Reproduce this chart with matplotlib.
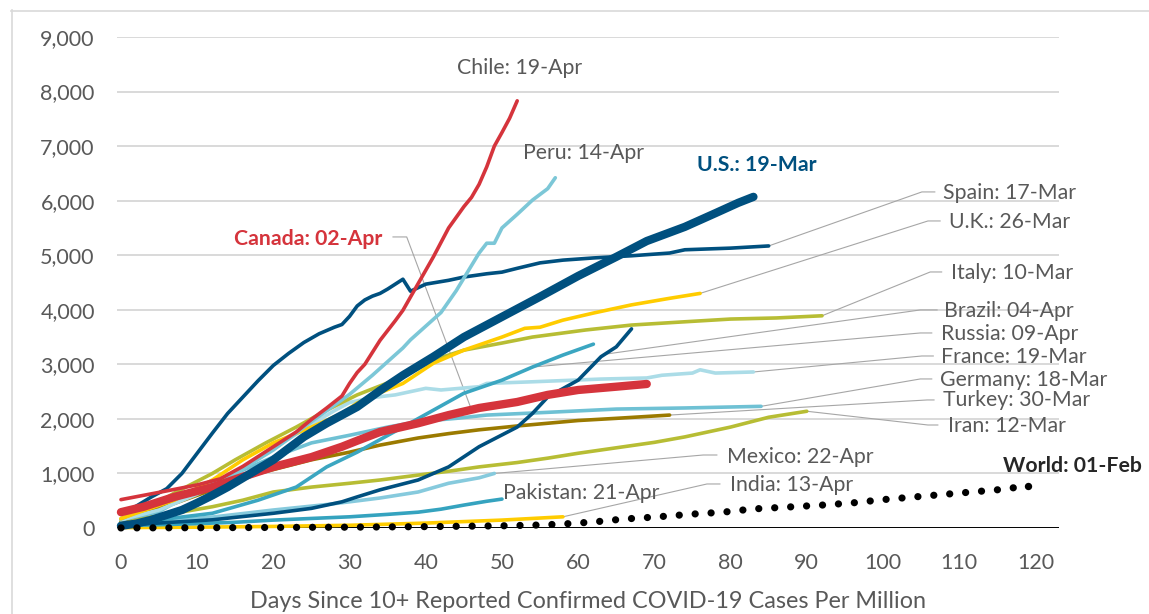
import numpy as np
import matplotlib
matplotlib.use("Agg")
import matplotlib.pyplot as plt
from matplotlib.lines import Line2D

plt.rcParams['font.family'] = ['Lato', 'DejaVu Sans']

# ---------------- data (days since threshold, cases per million) ----------------
chile_days = [0, 3, 6, 10, 13, 16, 19, 21, 23, 25, 27, 29, 30, 31, 32, 34, 36, 37, 39, 41, 43, 45, 46, 47, 48, 49, 50, 51, 52]
chile_vals = [520, 600, 680, 790, 900, 1130, 1400, 1580, 1760, 1990, 2200, 2420, 2650, 2850, 3000, 3440, 3800, 3990, 4480, 4970, 5500, 5890, 6060, 6300, 6620, 7000, 7250, 7510, 7830]

peru_days = [0, 5, 10, 15, 20, 25, 30, 33, 37, 38, 42, 44, 47, 48, 49, 50, 52, 54, 56, 57]
peru_vals = [310, 450, 660, 1000, 1430, 1950, 2450, 2800, 3300, 3450, 3950, 4350, 5040, 5220, 5220, 5500, 5750, 6010, 6220, 6420]

us_days = [0, 2, 4, 6, 8, 10, 12, 14, 17, 20, 24, 27, 31, 34, 37, 41, 45, 50, 55, 60, 65, 69, 74, 78, 81, 83]
us_vals = [40, 80, 150, 240, 330, 460, 600, 750, 1000, 1250, 1670, 1920, 2220, 2520, 2800, 3140, 3500, 3870, 4240, 4620, 4970, 5260, 5520, 5770, 5960, 6070]

spain_days = [0, 2, 4, 6, 8, 10, 12, 14, 16, 18, 20, 22, 24, 26, 28, 29, 30, 31, 32, 33, 34, 35, 36, 37, 38, 40, 43, 45, 48, 50, 52, 55, 58, 62, 67, 72, 74, 80, 85]
spain_vals = [250, 400, 570, 720, 1000, 1370, 1740, 2100, 2400, 2700, 2980, 3200, 3400, 3560, 3680, 3730, 3880, 4070, 4180, 4250, 4300, 4380, 4470, 4560, 4340, 4470, 4540, 4600, 4660, 4690, 4760, 4860, 4910, 4950, 4990, 5040, 5100, 5130, 5170]

uk_days = [0, 3, 7, 12, 16, 20, 25, 29, 31, 34, 37, 41, 45, 50, 53, 55, 58, 62, 67, 72, 76]
uk_vals = [175, 320, 510, 880, 1250, 1560, 1850, 2100, 2290, 2480, 2650, 3020, 3260, 3500, 3660, 3680, 3810, 3940, 4090, 4210, 4300]

italy_days = [0, 4, 7, 12, 15, 19, 23, 27, 31, 37, 41, 45, 50, 54, 61, 67, 74, 80, 86, 92]
italy_vals = [168, 400, 640, 1000, 1250, 1560, 1850, 2160, 2440, 2770, 3080, 3260, 3390, 3500, 3630, 3720, 3780, 3830, 3850, 3890]

brazil_days = [0, 6, 12, 20, 25, 29, 31, 34, 39, 43, 47, 52, 54, 56, 60, 63, 65, 67]
brazil_vals = [48, 100, 150, 270, 360, 480, 570, 700, 880, 1120, 1490, 1850, 2100, 2400, 2710, 3140, 3320, 3650]

russia_days = [0, 5, 12, 18, 23, 27, 31, 37, 41, 45, 50, 54, 58, 62]
russia_vals = [69, 150, 270, 510, 750, 1120, 1390, 1850, 2160, 2470, 2710, 2950, 3170, 3370]

france_days = [0, 5, 10, 15, 20, 25, 28, 30, 33, 36, 40, 42, 47, 48, 54, 63, 69, 71, 75, 76, 78, 83]
france_vals = [150, 330, 620, 1000, 1450, 1900, 2150, 2300, 2390, 2440, 2560, 2530, 2590, 2650, 2680, 2730, 2750, 2800, 2840, 2900, 2840, 2860]

canada_days = [0, 3, 7, 12, 16, 20, 25, 29, 31, 34, 39, 43, 47, 52, 56, 60, 65, 69]
canada_vals = [290, 390, 570, 750, 940, 1120, 1300, 1490, 1600, 1760, 1920, 2070, 2200, 2310, 2440, 2530, 2590, 2640]

germany_days = [0, 5, 10, 15, 20, 25, 30, 35, 39, 44, 48, 56, 65, 74, 84]
germany_vals = [148, 300, 690, 1000, 1300, 1560, 1700, 1850, 1950, 2010, 2070, 2120, 2180, 2200, 2230]

turkey_days = [0, 7, 12, 18, 25, 30, 34, 39, 43, 47, 52, 56, 60, 65, 72]
turkey_vals = [130, 450, 700, 1000, 1250, 1390, 1520, 1650, 1730, 1800, 1870, 1920, 1970, 2010, 2070]

iran_days = [0, 7, 12, 16, 20, 25, 30, 34, 39, 43, 47, 52, 56, 60, 65, 70, 74, 80, 85, 90]
iran_vals = [120, 270, 390, 510, 660, 750, 820, 880, 970, 1040, 1120, 1200, 1280, 1370, 1470, 1570, 1670, 1850, 2030, 2140]

mexico_days = [0, 6, 12, 20, 27, 30, 34, 39, 43, 47, 49]
mexico_vals = [80, 130, 200, 330, 430, 480, 550, 660, 820, 920, 1000]

pakistan_days = [0, 5, 10, 15, 20, 25, 30, 35, 39, 42, 45, 48, 50]
pakistan_vals = [44, 60, 80, 105, 145, 175, 205, 250, 290, 345, 420, 490, 530]

india_days = [0, 10, 20, 30, 40, 50, 58]
india_vals = [7, 15, 29, 50, 90, 145, 205]

world_days = [0, 10, 20, 30, 40, 50, 55, 58, 62, 66, 70, 75, 79, 83, 87, 92, 96, 100, 105, 110, 115, 119]
world_vals = [1.5, 5, 10, 15, 25, 40, 55, 73, 110, 165, 200, 255, 290, 350, 380, 420, 460, 520, 580, 640, 700, 770]

x_ticks = list(range(0, 121, 10))
y_ticks = list(range(0, 9001, 1000))
x_label = "Days Since 10+ Reported Confirmed COVID-19 Cases Per Million"

# ---------------- styling ----------------
DBLUE = "#00507f"
RED = "#d5343c"
GREY_TXT = "#595959"
LEAD = "#a6a6a6"

W, H = 1149, 614
fig = plt.figure(figsize=(W / 100, H / 100), dpi=100)
L, R, T, B = 117, 1059, 37, 528
ax = fig.add_axes([L / W, 1 - B / H, (R - L) / W, (B - T) / H])
ax.set_xlim(-0.52, 123.1)
ax.set_ylim(0, 9000)

for s in ax.spines.values():
    s.set_visible(False)
ax.set_yticks(y_ticks)
ax.set_yticklabels([f"{v:,}" for v in y_ticks])
ax.set_xticks(x_ticks)
ax.set_xticklabels([str(v) for v in x_ticks])
ax.tick_params(axis='both', length=0, labelsize=15.5, labelcolor=GREY_TXT)
ax.tick_params(axis='y', pad=16)
ax.tick_params(axis='x', pad=18)
for v in y_ticks[1:]:
    ax.axhline(v, color="#d9d9d9", lw=1.4, zorder=0)
ax.axhline(0, color="black", lw=1.4, zorder=1)
ax.set_xlabel(x_label, fontsize=16.8, color=GREY_TXT, labelpad=13)

thin = 2.6
thick = 6.0
series = [
    ("india", india_days, india_vals, "#ffcc00", thin),
    ("pakistan", pakistan_days, pakistan_vals, "#35a3bf", thin),
    ("mexico", mexico_days, mexico_vals, "#86cadd", thin),
    ("iran", iran_days, iran_vals, "#b7bd34", thin),
    ("turkey", turkey_days, turkey_vals, "#9b7a00", thin),
    ("germany", germany_days, germany_vals, "#6fc1d4", thin),
    ("france", france_days, france_vals, "#abdce7", thin),
    ("russia", russia_days, russia_vals, "#3ba6c1", thin),
    ("brazil", brazil_days, brazil_vals, DBLUE, thin),
    ("italy", italy_days, italy_vals, "#b7bd34", thin),
    ("uk", uk_days, uk_vals, "#ffcc00", thin),
    ("spain", spain_days, spain_vals, DBLUE, thin),
    ("peru", peru_days, peru_vals, "#7cc7d7", thin),
    ("chile", chile_days, chile_vals, RED, thin),
    ("canada", canada_days, canada_vals, RED, thick),
    ("us", us_days, us_vals, DBLUE, thick),
]
data = {}
for i, (name, d, v, c, lw) in enumerate(series):
    ax.plot(d, v, color=c, lw=lw, solid_capstyle='round', solid_joinstyle='round',
            zorder=3 + i, clip_on=False)
    data[name] = (d, v)

ax.plot(world_days, world_vals, color="black", lw=5.2, linestyle=(0, (0.01, 2.2)),
        dash_capstyle='round', zorder=30, clip_on=False)
ax.plot(world_days[-1:], world_vals[-1:], 'o', color="black", ms=5.3, mew=0,
        zorder=30, clip_on=False)
data["world"] = (world_days, world_vals)


def end(name):
    d, v = data[name]
    return d[-1], v[-1]


def at(name, day):
    d, v = data[name]
    return day, float(np.interp(day, d, v))


def leader(target, x0, x1, ye):
    tx, ty = target
    ax.plot([tx, x0, x1], [ty, ye, ye], color=LEAD, lw=0.8, zorder=2, clip_on=False)


FS = 15.3
# right-hand labels: (text, target, elbow x0, x1, elbow y, text x, text y)
right_labels = [
    ("Spain: 17-Mar", end("spain"), 105.1, 106.8, 6160, 107.9, 6140),
    ("U.K.: 26-Mar", end("uk"), 105.9, 107.5, 5628, 108.7, 5610),
    ("Italy: 10-Mar", end("italy"), 106.2, 107.7, 4693, 108.9, 4675),
    ("Brazil: 04-Apr", at("brazil", 63.5), 104.9, 107.1, 3997, 108.0, 3978),
    ("Russia: 09-Apr", at("russia", 54), 104.9, 106.4, 3575, 107.6, 3557),
    ("France: 19-Mar", end("france"), 105.1, 106.6, 3153, 107.6, 3135),
    ("Germany: 18-Mar", end("germany"), 104.9, 106.4, 2732, 107.5, 2713),
    ("Turkey: 30-Mar", end("turkey"), 105.8, 106.7, 2347, 107.9, 2347),
    ("Iran: 12-Mar", end("iran"), 105.9, 107.2, 1888, 108.5, 1870),
    ("Mexico: 22-Apr", end("mexico"), 76.4, 78.2, 1338, 79.5, 1302),
    ("India: 13-Apr", end("india"), 76.9, 78.6, 807, 79.9, 788),
]
for txt, tgt, x0, x1, ye, xt, yt in right_labels:
    leader(tgt, x0, x1, ye)
    ax.text(xt, yt, txt, fontsize=FS, color=GREY_TXT, ha='left', va='center', zorder=40)

leader(at("canada", 46), 37.5, 35.7, 5335)
ax.text(34.3, 5298, "Canada: 02-Apr", fontsize=FS, color=RED, fontweight='bold',
        ha='right', va='center', zorder=40)
ax.text(44.1, 8433, "Chile: 19-Apr", fontsize=FS, color=GREY_TXT, ha='left', va='center')
ax.text(52.8, 6875, "Peru: 14-Apr", fontsize=FS, color=GREY_TXT, ha='left', va='center')
ax.text(75.6, 6655, "U.S.: 19-Mar", fontsize=FS, color=DBLUE, fontweight='bold', ha='left', va='center')
ax.text(50.1, 642, "Pakistan: 21-Apr", fontsize=FS, color=GREY_TXT, ha='left', va='center', zorder=40)
ax.text(115.7, 1137, "World: 01-Feb", fontsize=FS, color="#262626", fontweight='bold', ha='left', va='center')

# chart-area border
fig.add_artist(Line2D([11.5 / W, 11.5 / W], [1 - 10 / H, 0], color="#d9d9d9", lw=1.2))
fig.add_artist(Line2D([11 / W, 1], [1 - 10.5 / H, 1 - 10.5 / H], color="#d9d9d9", lw=1.2))

fig.savefig("out.png", dpi=100)
